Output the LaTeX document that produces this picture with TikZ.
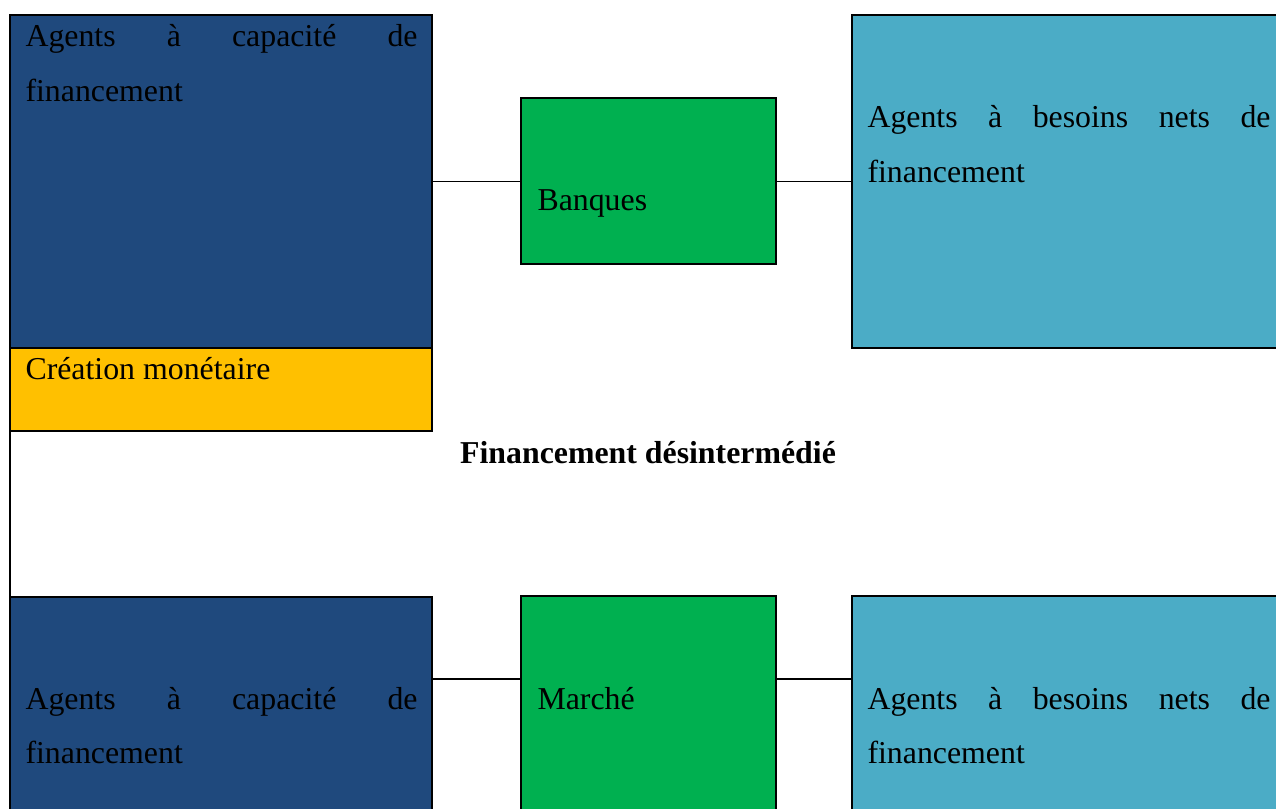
\documentclass[tikz,border=0pt]{standalone}
\usepackage{fontspec}
\setmainfont{Liberation Serif}
\usepackage{tikz}
\usetikzlibrary{trees,shapes,arrows,positioning,calc}
\usepackage{xcolor}
\definecolor{bleufonce}{RGB}{31,73,125}
\definecolor{vert}{RGB}{0,176,80}
\definecolor{jaune}{RGB}{255,192,0}
\definecolor{bleuclair}{RGB}{75,172,198}
\newcommand{\upx}{0.377pt}
\tolerance=10000
\hyphenpenalty=10000

\begin{document}
\begin{tikzpicture}[x=0.377pt, y=-0.377pt,
    boite/.style={draw, line width=0.5pt, inner sep=0pt, outer sep=0pt, anchor=north west},
    texte/.style={anchor=base west, inner sep=0pt, font=\fontsize{12}{20.4}\selectfont}]
            \useasboundingbox (0,0) rectangle (1276,809);
            \clip (0,0) rectangle (1276,809);

            \node[boite, fill=bleufonce, minimum width=422*\upx, minimum height=333*\upx] (AC) at (10,15) {};
            \node[boite, fill=jaune, minimum width=422*\upx, minimum height=83*\upx] (CM) at (10,348) {};
            \node[boite, fill=vert, minimum width=255*\upx, minimum height=166*\upx] (B) at (521,98) {};
            \node[boite, fill=bleuclair, minimum width=440*\upx, minimum height=333*\upx] (AB) at (852,15) {};

            \node[boite, fill=bleufonce, minimum width=422*\upx, minimum height=300*\upx] (AC2) at (10,597) {};
            \node[boite, fill=vert, minimum width=255*\upx, minimum height=300*\upx] (M) at (521,596) {};
            \node[boite, fill=bleuclair, minimum width=440*\upx, minimum height=300*\upx] (AB2) at (852,596) {};

            \draw[line width=0.5pt] (AC.east) -- (AC.east -| B.west);
            \draw[line width=0.5pt] (B.east |- AB.west) -- (AB.west);
            \draw[line width=0.5pt] (CM.south west) -- (AC2.north west);

            \coordinate (lienM) at (0,679);
            \draw[line width=0.5pt] (AC2.east |- lienM) -- (M.west |- lienM);
            \draw[line width=0.5pt] (M.east |- lienM) -- (AB2.west |- lienM);

            \node[texte, text width=392*\upx, align=justify] (tAC) at (25,47) {Agents à capacité de\linebreak financement};
            \node[texte] (tCM) at (25,379) {Création monétaire};
            \node[texte] (tB) at (537,211) {Banques};
            \node[texte, text width=403*\upx, align=justify] (tAB) at (867,128) {Agents à besoins nets de\linebreak financement};

            \node[texte, anchor=base, font=\fontsize{12}{20.4}\selectfont\bfseries] (titre) at (648,463) {Financement désintermédié};

            \node[texte, text width=392*\upx, align=justify] (tAC2) at (25,709) {Agents à capacité de\linebreak financement};
            \node[texte] (tM) at (537,709) {Marché};
            \node[texte, text width=403*\upx, align=justify] (tAB2) at (867,709) {Agents à besoins nets de\linebreak financement};
        \end{tikzpicture}
\end{document}
